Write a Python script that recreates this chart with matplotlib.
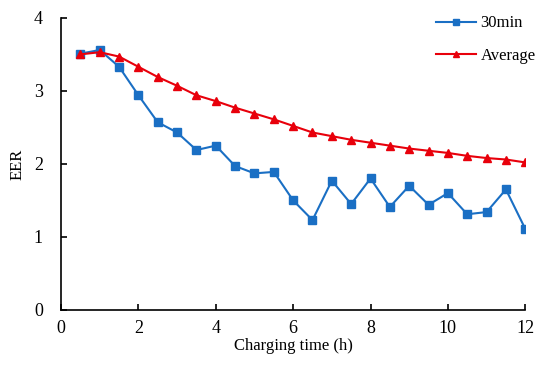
import matplotlib
matplotlib.use("Agg")
from matplotlib import pyplot as plt
import numpy as np

plt.rcParams['font.family'] = ['Liberation Serif', 'DejaVu Serif']

hours = [0.5, 1.0, 1.5, 2.0, 2.5, 3.0, 3.5, 4.0, 4.5, 5.0, 5.5, 6.0,
         6.5, 7.0, 7.5, 8.0, 8.5, 9.0, 9.5, 10.0, 10.5, 11.0, 11.5, 12.0]
eer_30min = [3.51, 3.56, 3.33, 2.94, 2.57, 2.43, 2.19, 2.25, 1.97, 1.87, 1.89, 1.50,
             1.23, 1.77, 1.45, 1.80, 1.41, 1.70, 1.44, 1.60, 1.31, 1.34, 1.65, 1.11]
eer_avg = [3.50, 3.53, 3.47, 3.33, 3.19, 3.07, 2.94, 2.86, 2.77, 2.69, 2.61, 2.52,
           2.43, 2.38, 2.33, 2.29, 2.25, 2.21, 2.18, 2.15, 2.11, 2.08, 2.06, 2.02]

fig = plt.figure(figsize=(5.5, 3.65), dpi=100)
ax = fig.add_axes([0.111, 0.151, 0.844, 0.80])

ax.plot(hours, eer_30min, color="#1a6fc4", marker="s", markersize=5.5, linewidth=1.5, label="30min")
ax.plot(hours, eer_avg, color="#e8000b", marker="^", markersize=6, linewidth=1.5, label="Average")

ax.set_xlim(0, 12)
ax.set_ylim(0, 4)
ax.set_xticks(np.arange(0, 13, 2))
ax.set_yticks(np.arange(0, 5, 1))
ax.tick_params(direction="in", labelsize=13, length=4, width=1.2)
ax.tick_params(axis="x", pad=7)
ax.tick_params(axis="y", pad=13)
ax.spines["top"].set_visible(False)
ax.spines["right"].set_visible(False)
ax.spines["left"].set_linewidth(1.2)
ax.spines["bottom"].set_linewidth(1.2)

ax.set_xlabel("Charging time (h)", fontsize=12, labelpad=1)
ax.set_ylabel("EER", fontsize=12, labelpad=6)

ax.legend(loc="upper right", bbox_to_anchor=(1.055, 1.06), frameon=False, fontsize=12,
          handlelength=2.4, handletextpad=0.3, labelspacing=1.0, markerscale=0.75)

fig.savefig("out.png", dpi=100)
